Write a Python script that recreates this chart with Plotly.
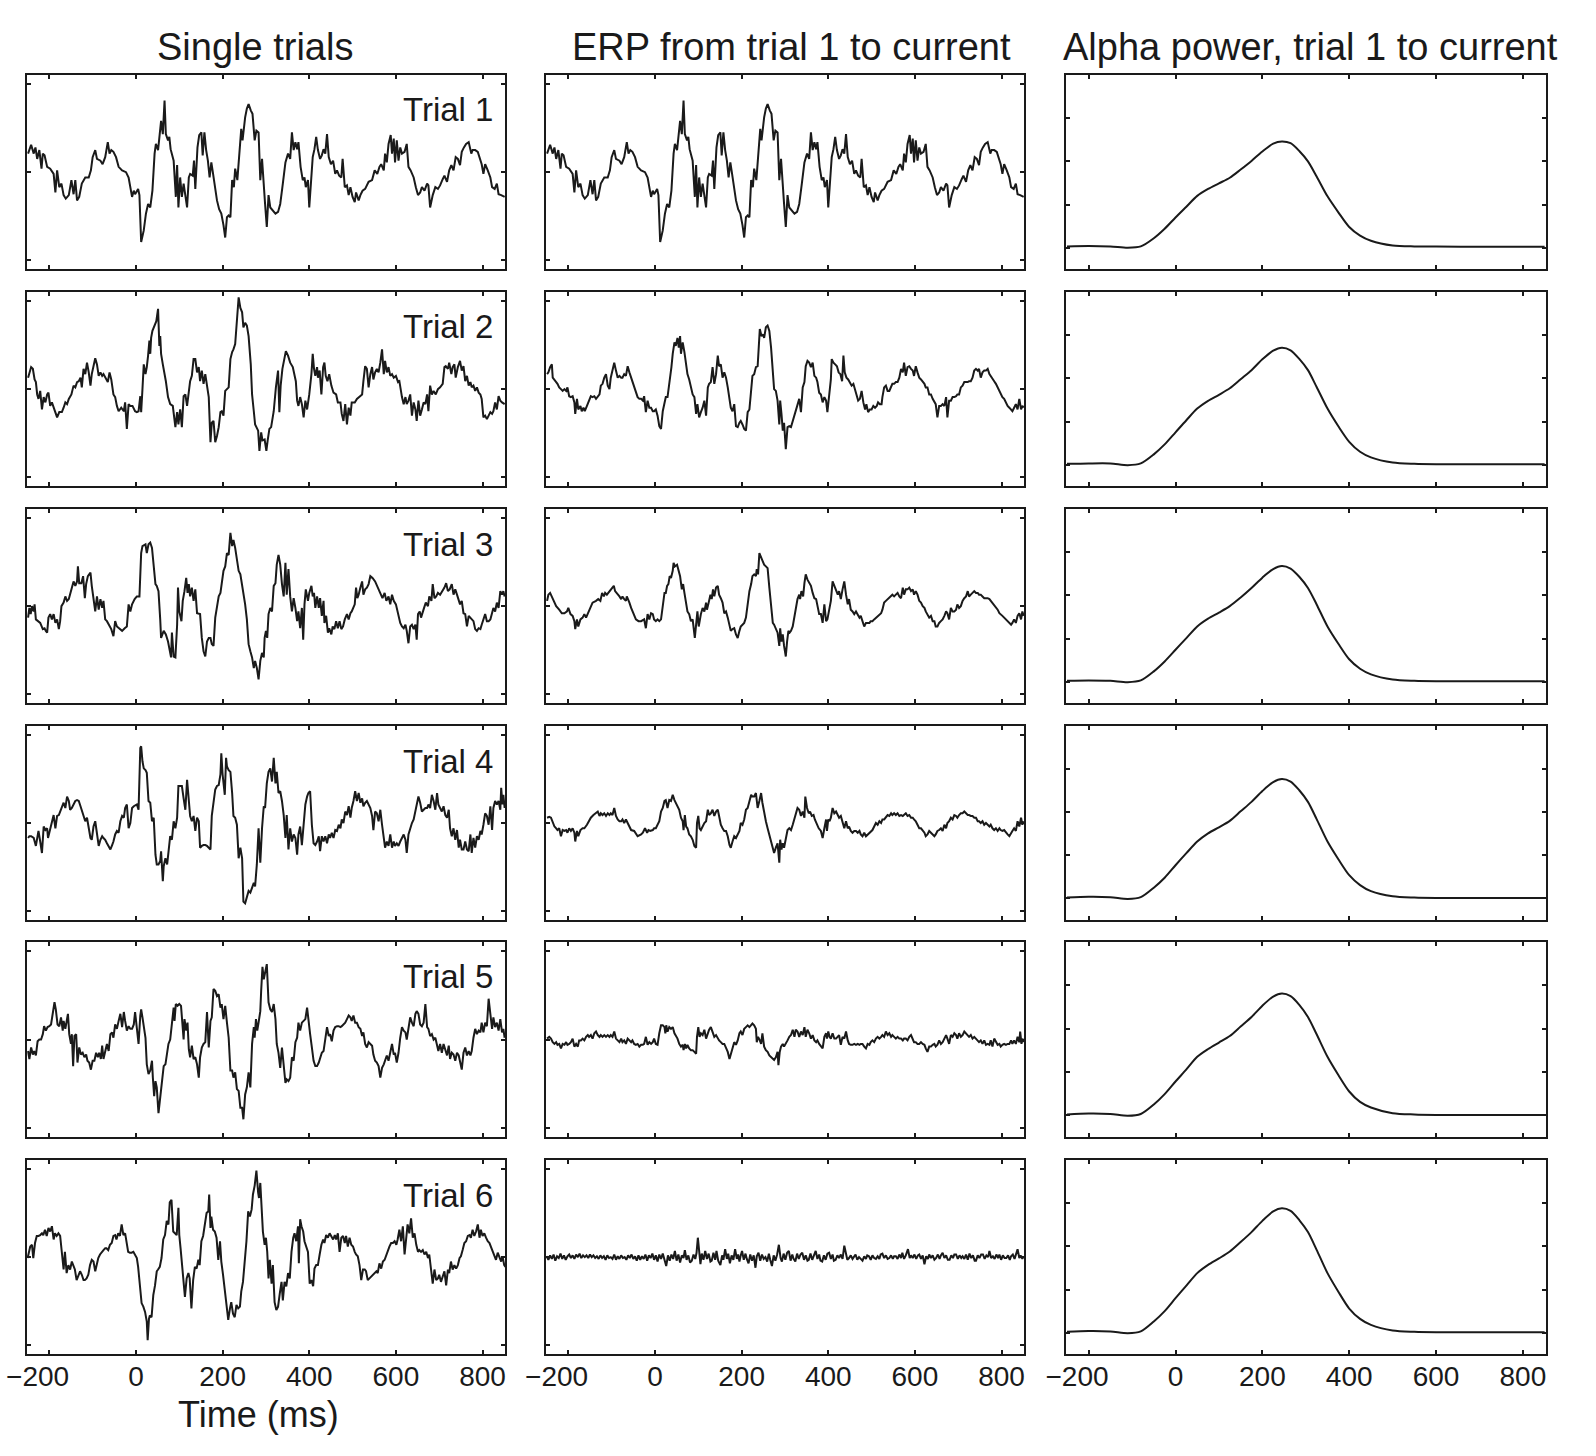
import plotly.graph_objects as go
from plotly.subplots import make_subplots

# ---------------- data (time in ms, amplitude in microvolts) ----------------
x_ticks = [-200, 0, 200, 400, 600, 800]
x_tick_text = ["\u2212200\u00a0\u00a0\u00a0", "0", "200", "400", "600", "800"]
col_titles = ["Single trials", "ERP from trial 1 to current", "Alpha power, trial 1 to current"]
trial_labels = ["Trial 1", "Trial 2", "Trial 3", "Trial 4", "Trial 5", "Trial 6"]

trial1 = [(-249,2.1),(-242,3.1),(-236,2.1),(-232,2.8),(-228,1.5),(-223,2.5),(-218,0.4),(-215,2.1),(-211,1.9),(-205,0.6),
 (-198,0.4),(-190,-0.2),(-186,-2.3),(-182,0.2),(-177,-1.7),(-172,-1.3),(-167,-2.6),(-162,-3.0),(-155,-2.6),(-149,-0.9),
 (-144,-2.5),(-140,-0.9),(-136,-3.2),(-131,-2.8),(-125,-1.3),(-117,-0.6),(-109,-0.6),(-104,0.2),(-100,1.7),(-94,2.5),
 (-90,1.5),(-82,1.3),(-77,0.9),(-71,1.7),(-65,3.4),(-61,2.1),(-57,2.5),(-52,2.3),(-46,1.7),(-40,0.6),
 (-32,0.2),(-23,0.0),(-17,-0.6),(-9,-2.8),(-5,-2.1),(-2,-2.5),(5,-1.9),(8,-2.6),(12,-7.9),(18,-6.6),
 (23,-4.7),(28,-3.6),(33,-4.0),(38,-2.1),(43,2.1),(46,3.2),(51,2.5),(55,4.7),(58,5.8),(62,4.3),
 (66,8.1),(69,4.3),(74,3.6),(77,4.0),(80,2.6),(87,1.3),(92,-2.8),(95,0.8),(98,-4.0),(102,-0.6),
 (106,-2.8),(110,-1.3),(114,-2.8),(118,-4.0),(122,-0.6),(125,-0.2),(131,-0.4),(134,1.3),(137,-1.9),(142,2.8),
 (146,4.2),(151,4.5),(154,1.9),(158,4.5),(162,2.5),(166,1.3),(170,-0.6),(174,1.1),(178,-0.2),(183,-2.1),
 (187,-3.2),(192,-4.2),(197,-4.7),(202,-6.0),(206,-7.4),(210,-5.1),(214,-4.9),(218,-5.1),(222,-0.9),(226,-1.7),
 (229,0.4),(234,-0.9),(238,2.1),(243,4.9),(246,3.6),(249,5.1),(252,6.2),(256,7.2),(260,7.7),(265,7.0),
 (269,6.6),(274,3.6),(278,4.7),(283,4.5),(287,-0.9),(291,1.5),(295,-2.1),(298,-3.6),(302,-6.2),(306,-2.6),
 (310,-4.0),(315,-4.3),(322,-4.7),(328,-4.5),(333,-3.6),(338,-1.7),(345,1.1),(351,2.1),(356,1.5),(360,4.5),
 (364,2.5),(368,3.4),(372,2.6),(375,3.4),(380,0.6),(385,-0.9),(389,-0.6),(392,-1.7),(397,-0.9),(400,-4.0),
 (405,-0.9),(408,1.7),(412,2.6),(416,4.0),(420,2.5),(425,1.5),(429,1.9),(433,2.6),(437,2.1),(441,4.3),
 (445,1.7),(450,0.9),(455,1.3),(460,-0.2),(464,0.2),(469,-0.4),(474,-0.6),(477,1.5),(482,-1.7),(487,-1.5),
 (491,-2.6),(495,-1.7),(500,-2.8),(505,-3.4),(508,-2.3),(514,-3.2),(518,-2.6),(523,-2.1),(529,-1.9),(537,-1.1),
 (545,-0.9),(551,0.2),(557,-0.2),(562,0.6),(566,0.9),(572,0.2),(575,2.1),(579,1.1),(583,3.2),(588,4.2),
 (591,2.1),(595,3.8),(598,1.1),(602,3.6),(606,1.3),(610,2.8),(614,2.1),(620,2.3),(625,3.2),(629,0.6),
 (634,0.2),(641,-0.6),(646,-1.7),(651,-2.6),(656,-2.3),(660,-1.7),(666,-2.1),(672,-1.3),(675,-1.5),(679,-4.0),
 (685,-2.6),(691,-1.7),(697,-1.9),(702,-1.5),(708,-0.8),(712,-0.4),(718,-1.1),(723,0.2),(728,0.8),(733,0.2),
 (738,1.7),(743,1.5),(748,0.8),(752,2.3),(757,2.8),(762,3.2),(768,3.4),(774,2.1),(777,2.5),(783,2.5),
 (789,2.3),(795,1.5),(798,0.9),(802,-0.2),(806,0.9),(812,0.2),(818,-0.6),(822,-1.7),(828,-1.9),(833,-1.3),
 (837,-2.5),(843,-2.6),(851,-2.8)]

trial2 = [(-249,1.3),(-246,1.9),(-242,2.5),(-238,2.3),(-234,1.1),(-231,0.8),(-228,-0.6),(-225,-1.1),(-221,-0.2),(-217,-2.3),
 (-213,-0.9),(-209,-1.5),(-205,-0.6),(-202,-0.4),(-198,-1.9),(-194,-1.5),(-190,-2.1),(-186,-2.8),(-182,-3.2),(-177,-2.6),
 (-171,-2.6),(-167,-2.1),(-163,-1.5),(-159,-1.7),(-155,-1.1),(-149,-0.6),(-144,0.4),(-140,0.2),(-136,0.8),(-132,0.9),
 (-128,1.3),(-125,0.2),(-121,2.3),(-117,1.7),(-113,3.0),(-109,1.9),(-105,0.4),(-102,1.7),(-98,2.6),(-94,3.5),
 (-90,2.8),(-86,1.5),(-82,1.9),(-78,1.5),(-75,1.7),(-71,1.3),(-65,0.8),(-61,1.9),(-57,1.1),(-52,-0.6),
 (-48,-0.9),(-44,-1.9),(-40,-2.5),(-34,-2.1),(-28,-2.5),(-25,-1.5),(-21,-4.5),(-17,-1.7),(-13,-1.9),(-8,-1.9),
 (-2,-2.5),(2,-2.6),(6,-2.5),(10,-0.8),(12,-2.6),(15,0.0),(18,2.8),(22,1.7),(25,2.5),(28,3.8),
 (31,5.5),(33,4.0),(35,5.8),(38,6.6),(43,7.2),(47,7.7),(51,9.1),(54,4.9),(56,6.0),(58,4.0),
 (62,2.8),(66,1.9),(69,0.9),(74,-0.9),(79,-1.7),(85,-1.9),(88,-3.0),(91,-4.3),(95,-2.6),(98,-4.0),
 (102,-2.3),(106,-4.3),(110,-0.8),(114,-0.6),(118,-1.9),(122,0.0),(125,0.9),(129,1.5),(133,3.4),(137,3.4),
 (141,1.9),(145,2.5),(148,0.9),(152,2.1),(156,0.6),(160,1.7),(164,0.2),(168,-0.9),(172,-6.0),(175,-3.8),
 (179,-3.6),(183,-6.0),(187,-5.3),(191,-4.3),(195,-2.6),(198,-2.5),(202,-3.0),(206,-0.2),(214,0.2),(218,3.4),
 (222,4.2),(225,4.5),(229,5.1),(233,7.4),(237,10.4),(241,9.2),(245,8.7),(248,7.0),(252,7.5),(256,7.2),
 (260,6.0),(265,2.8),(268,-0.6),(272,-2.5),(275,-4.0),(282,-4.7),(285,-7.0),(289,-4.9),(292,-5.8),(297,-5.7),
 (301,-7.0),(304,-5.8),(308,-4.5),(312,-4.3),(318,-2.5),(323,0.2),(328,2.1),(331,-2.6),(334,0.4),(338,2.3),
 (343,3.6),(346,4.3),(351,3.8),(356,3.0),(362,2.5),(366,1.7),(369,0.9),(372,-1.3),(375,-1.9),(379,-0.9),
 (383,-1.7),(387,-3.2),(391,-1.3),(395,-2.3),(400,-0.6),(405,1.7),(408,4.0),(411,2.3),(414,1.5),(418,2.5),
 (420,1.3),(424,2.1),(428,-0.6),(432,2.5),(435,3.0),(438,1.5),(442,0.9),(446,1.7),(451,0.4),(456,-0.4),
 (462,-0.6),(466,-1.5),(472,-1.5),(475,-2.8),(479,-3.6),(483,-1.7),(487,-4.0),(491,-2.1),(495,-3.0),(498,-1.5),
 (505,-1.5),(510,-1.1),(515,-0.9),(522,-0.6),(525,0.9),(529,2.6),(533,2.3),(537,0.2),(541,1.7),(545,2.5),
 (548,1.1),(552,1.9),(556,2.3),(560,1.9),(564,3.0),(568,4.5),(572,1.7),(575,3.2),(579,1.9),(583,2.5),
 (587,1.5),(591,1.7),(595,1.3),(600,1.5),(605,0.8),(608,0.9),(614,-0.9),(618,-1.7),(622,-0.9),(625,-1.7),
 (629,-1.3),(633,-0.6),(637,-3.0),(641,-1.5),(645,-2.3),(648,-3.6),(652,-1.3),(656,-3.0),(660,-2.3),(664,-1.5),
 (668,-1.7),(672,-0.6),(675,-2.5),(679,0.4),(683,-0.6),(687,-0.2),(692,-0.6),(697,0.0),(702,0.2),(708,0.6),
 (712,2.5),(715,2.6),(720,2.3),(723,3.0),(728,1.7),(731,2.5),(735,2.8),(738,1.3),(743,2.5),(748,3.2),
 (752,2.1),(756,2.6),(760,0.9),(764,1.5),(768,0.4),(772,0.8),(775,0.2),(779,0.4),(783,-0.2),(787,0.2),
 (791,-0.4),(795,-0.6),(798,-1.1),(802,-3.2),(806,-3.0),(810,-3.4),(814,-3.0),(818,-2.6),(822,-2.8),(825,-2.5),
 (829,-1.5),(833,-2.3),(837,-0.8),(841,-1.3),(845,-1.5),(851,-1.7)]

trial3 = [(-249,-1.3),(-246,-0.2),(-243,-0.9),(-240,0.0),(-236,-0.6),(-234,0.2),(-231,-1.5),(-226,-1.7),(-221,-1.9),(-215,-2.6),
 (-211,-2.5),(-208,-2.8),(-205,-3.0),(-202,-1.3),(-198,-0.9),(-194,-1.5),(-190,-0.9),(-186,-1.9),(-182,-1.5),(-178,-2.6),
 (-175,-1.7),(-172,0.0),(-167,0.4),(-163,1.1),(-159,0.6),(-155,0.8),(-152,1.3),(-148,1.9),(-144,2.8),(-140,2.3),
 (-136,2.8),(-134,4.5),(-131,2.6),(-126,2.6),(-122,3.4),(-118,0.9),(-115,2.5),(-111,3.4),(-105,3.8),(-102,2.3),
 (-98,0.6),(-94,-0.6),(-90,1.1),(-86,-0.4),(-82,0.8),(-78,-0.2),(-75,0.6),(-71,-1.5),(-67,-1.7),(-63,-2.1),
 (-57,-2.6),(-52,-3.4),(-48,-1.7),(-44,-2.3),(-38,-2.6),(-32,-2.8),(-26,-2.5),(-21,-2.3),(-17,0.2),(-13,-0.6),
 (-9,0.2),(-3,0.8),(2,1.1),(8,1.1),(12,6.0),(15,6.8),(22,7.0),(25,6.0),(29,7.0),(33,7.2),
 (37,6.6),(41,4.7),(45,2.5),(48,2.3),(52,1.7),(56,-1.5),(58,-3.6),(64,-2.8),(69,-3.2),(74,-4.0),
 (77,-4.9),(81,-5.8),(83,-3.0),(87,-5.7),(91,-5.8),(95,-2.1),(97,2.1),(100,-0.6),(105,-1.7),(108,0.6),
 (112,1.7),(116,3.2),(119,1.5),(122,2.5),(125,1.1),(129,2.1),(133,0.6),(137,1.9),(141,-0.8),(145,-0.9),
 (148,-0.9),(152,-3.6),(156,-5.1),(160,-5.7),(164,-4.0),(168,-3.6),(172,-3.6),(175,-4.3),(179,-4.5),(183,-1.3),
 (187,-0.2),(191,1.1),(195,1.5),(198,2.6),(202,4.0),(206,4.5),(210,6.0),(214,5.8),(218,8.3),(222,6.8),
 (225,7.5),(229,6.6),(233,5.3),(237,4.0),(241,3.6),(245,2.5),(248,1.3),(252,0.2),(256,-1.5),(260,-4.3),
 (264,-5.1),(268,-5.8),(272,-7.0),(275,-6.2),(279,-7.0),(283,-8.3),(287,-6.2),(291,-5.3),(295,-5.8),(297,-3.6),
 (300,-2.8),(303,-3.6),(306,-0.9),(310,-0.2),(314,-0.6),(318,2.3),(322,2.6),(325,4.7),(329,5.8),(333,4.7),
 (337,2.5),(341,1.1),(345,4.9),(348,1.3),(352,4.2),(356,1.1),(360,-0.6),(364,0.9),(368,-0.2),(372,-1.7),
 (375,-0.6),(379,-2.5),(383,-0.2),(386,-3.8),(389,0.2),(392,1.9),(397,0.6),(400,1.5),(405,2.3),(408,1.1),
 (411,1.5),(414,-0.2),(418,1.1),(422,-0.2),(425,0.9),(429,-1.1),(433,0.6),(435,-1.9),(439,-1.1),(443,-3.0),
 (446,-2.5),(451,-3.2),(454,-2.3),(458,-2.6),(462,-1.7),(466,-2.5),(470,-1.7),(474,-2.6),(478,-2.3),(482,-1.5),
 (487,-0.9),(491,-1.5),(495,-0.8),(498,-0.6),(505,0.2),(508,2.1),(511,0.9),(514,1.3),(518,2.1),(522,2.8),
 (525,1.3),(529,1.9),(533,2.1),(537,2.5),(541,3.4),(546,3.2),(552,2.8),(558,2.1),(564,1.3),(569,0.9),
 (574,1.5),(578,0.6),(583,1.1),(587,0.2),(591,1.3),(595,0.6),(600,0.2),(605,-0.9),(610,-1.9),(614,-2.3),
 (618,-2.5),(622,-2.1),(625,-2.8),(629,-4.2),(633,-2.3),(637,-2.1),(641,-2.6),(645,-2.1),(648,-3.8),(651,-0.9),
 (655,-0.6),(658,-1.3),(662,-0.8),(665,-0.2),(669,0.4),(674,0.0),(677,1.1),(682,0.6),(685,2.5),(689,0.9),
 (693,1.1),(697,1.5),(702,1.3),(708,1.7),(712,2.1),(716,2.6),(720,1.7),(724,1.9),(729,2.5),(733,1.3),
 (737,1.9),(741,1.3),(745,0.8),(748,0.2),(752,0.6),(756,-0.8),(760,-0.9),(764,-2.3),(768,-1.1),(772,-1.3),
 (775,-1.5),(779,-1.7),(783,-2.6),(787,-2.8),(791,-2.5),(795,-2.6),(798,-2.1),(802,-1.5),(806,-0.9),(810,-1.7),
 (814,-1.7),(818,-1.5),(822,-0.9),(825,-0.2),(829,-0.6),(833,0.4),(837,-0.2),(841,1.7),(845,1.3),(848,1.7),
 (851,1.1)]

trial4 = [(-249,-1.7),(-246,-1.5),(-242,-1.5),(-236,-1.7),(-231,-2.6),(-228,-1.9),(-225,-0.9),(-221,-2.1),(-217,-3.4),(-213,-0.4),
 (-209,-0.8),(-205,-0.6),(-203,-1.7),(-200,-1.1),(-195,-0.2),(-190,0.9),(-186,-0.6),(-182,0.8),(-178,0.9),(-175,1.3),
 (-171,1.9),(-167,2.3),(-163,1.7),(-159,3.0),(-155,2.5),(-152,1.5),(-148,1.7),(-144,2.1),(-140,2.5),(-136,2.6),
 (-132,2.5),(-128,1.9),(-125,1.5),(-121,0.9),(-117,0.2),(-113,0.6),(-109,-0.6),(-105,-1.7),(-102,-1.9),(-98,-0.4),
 (-94,0.2),(-90,-1.3),(-86,-2.6),(-82,-1.9),(-78,-1.5),(-75,-1.7),(-71,-1.9),(-67,-2.3),(-63,-2.6),(-59,-3.0),
 (-55,-2.5),(-52,-2.1),(-48,-1.3),(-44,-0.9),(-40,-1.1),(-36,0.2),(-32,0.8),(-28,0.6),(-25,1.7),(-21,2.1),
 (-17,-0.6),(-13,0.0),(-9,1.7),(-5,1.9),(2,2.1),(6,1.5),(10,8.5),(12,8.7),(15,7.0),(18,6.2),
 (22,6.0),(25,5.7),(29,2.5),(33,2.3),(37,0.2),(41,0.6),(45,-3.6),(48,-4.7),(52,-4.7),(56,-4.3),
 (58,-3.2),(62,-6.6),(64,-4.9),(68,-4.0),(72,-4.7),(75,-3.0),(79,-1.5),(83,-1.9),(87,0.2),(91,-0.6),
 (95,0.6),(98,4.2),(102,4.2),(106,4.2),(110,2.8),(114,1.5),(118,4.9),(122,2.1),(125,0.8),(129,0.2),
 (133,0.8),(137,-0.9),(141,0.6),(145,0.2),(148,-2.8),(152,-2.6),(156,-2.5),(160,-2.5),(164,-2.6),(168,-2.8),
 (172,-3.0),(175,0.8),(179,2.3),(183,3.8),(187,4.2),(191,4.3),(195,5.5),(197,7.9),(200,5.5),(202,4.7),
 (205,3.2),(208,7.4),(210,6.4),(214,6.0),(218,5.8),(222,3.4),(225,0.8),(229,0.6),(233,-0.2),(237,-4.0),
 (241,-2.8),(245,-4.0),(248,-8.9),(252,-9.1),(256,-8.5),(260,-7.7),(264,-7.9),(268,-7.4),(272,-6.8),(275,-7.2),
 (279,-4.7),(283,-0.6),(287,-4.5),(291,-0.6),(295,1.9),(298,1.7),(302,4.5),(306,5.8),(310,6.2),(314,4.7),
 (318,7.4),(322,4.5),(325,5.8),(329,3.4),(333,3.6),(337,2.5),(341,0.9),(345,-1.7),(348,0.9),(352,-3.0),
 (356,-0.6),(360,-2.1),(364,-1.3),(368,-1.7),(372,-3.6),(375,-1.3),(379,-0.4),(383,-2.5),(387,0.2),(391,2.1),
 (395,3.0),(398,3.4),(402,3.6),(406,-0.2),(410,-2.3),(414,-2.5),(418,-2.1),(422,-1.5),(425,-3.2),(429,-1.5),
 (433,-2.1),(437,-1.5),(441,-2.3),(445,-1.3),(448,-1.7),(452,-1.1),(456,-1.7),(460,-0.8),(464,-0.9),(468,-0.2),
 (472,-0.6),(475,0.4),(479,0.0),(483,1.3),(487,0.9),(491,1.9),(495,0.6),(498,1.7),(502,2.5),(506,3.6),
 (510,2.5),(514,3.4),(518,2.3),(522,2.8),(525,1.9),(529,2.3),(533,2.5),(537,2.1),(541,1.7),(545,0.8),
 (548,-0.8),(552,1.3),(556,1.1),(560,0.2),(564,1.5),(568,-0.2),(572,-1.7),(575,-2.8),(579,-2.1),(583,-2.6),
 (587,-1.3),(591,-2.8),(595,-2.1),(598,-2.6),(602,-2.3),(606,-2.6),(610,-2.1),(614,-1.7),(618,-1.3),(622,-1.9),
 (625,-3.4),(629,-1.3),(633,-0.6),(637,0.0),(641,0.4),(645,1.3),(648,1.9),(652,3.0),(656,2.3),(660,1.3),
 (664,1.5),(668,1.7),(672,1.7),(675,2.1),(679,1.7),(683,3.2),(687,2.5),(691,1.5),(695,3.4),(698,2.1),
 (702,1.7),(706,1.3),(710,1.9),(714,0.9),(718,0.6),(722,1.5),(725,-0.6),(729,-1.5),(733,-0.6),(737,-1.9),
 (741,-0.8),(745,-2.8),(748,-1.9),(752,-3.0),(756,-3.0),(760,-2.1),(764,-3.0),(768,-3.2),(772,-1.3),(775,-3.4),
 (779,-1.7),(783,-2.8),(787,-1.5),(791,-1.9),(795,-0.9),(798,-1.3),(802,-0.2),(806,1.1),(810,0.8),(814,-0.2),
 (818,1.9),(822,-0.8),(825,1.7),(829,2.5),(833,2.1),(837,2.5),(841,1.5),(843,4.0),(846,2.1),(848,3.2),
 (851,1.7)]

trial5 = [(-249,-1.3),(-246,-2.2),(-242,-0.9),(-238,-1.7),(-235,-1.3),(-231,-1.8),(-227,-0.2),(-223,0.0),(-219,0.0),(-215,0.6),
 (-212,1.5),(-208,1.0),(-204,1.4),(-200,1.5),(-196,1.7),(-192,3.1),(-188,4.2),(-185,3.4),(-181,1.7),(-177,1.5),
 (-173,2.5),(-169,1.0),(-167,2.1),(-163,1.2),(-159,2.5),(-157,2.9),(-154,0.6),(-150,-0.5),(-148,0.6),(-145,-3.0),
 (-142,0.4),(-138,0.6),(-135,-2.6),(-131,-0.9),(-127,-1.7),(-123,-1.5),(-119,-2.0),(-115,-1.7),(-112,-2.4),(-108,-2.6),
 (-104,-3.4),(-100,-2.4),(-96,-2.4),(-92,-1.5),(-88,-2.0),(-85,-1.5),(-81,-2.2),(-78,-0.7),(-75,-2.2),(-71,-1.5),
 (-67,-0.5),(-63,-1.3),(-59,0.6),(-55,0.8),(-52,0.2),(-48,1.7),(-44,1.2),(-40,2.1),(-36,2.9),(-32,1.4),
 (-28,3.1),(-25,2.1),(-21,1.0),(-17,1.5),(-13,1.2),(-9,1.2),(-5,1.7),(-2,3.1),(2,1.5),(6,-0.5),
 (10,2.7),(12,3.4),(15,2.5),(18,1.4),(22,0.2),(25,-2.8),(29,-3.9),(33,-3.5),(37,-2.4),(39,-4.3),
 (42,-6.4),(45,-4.7),(48,-5.4),(52,-8.3),(56,-6.6),(60,-5.1),(64,-3.0),(68,-2.8),(72,-1.7),(75,-0.5),
 (79,0.0),(83,2.1),(87,3.6),(89,2.1),(92,4.0),(96,3.8),(100,4.0),(104,3.8),(106,2.3),(110,0.0),
 (112,2.3),(116,1.0),(119,1.9),(122,-1.1),(125,-2.0),(129,-0.7),(133,-2.2),(137,-2.0),(141,-2.8),(145,-4.3),
 (148,-2.0),(152,-0.9),(156,-0.5),(160,-0.3),(164,3.1),(168,-0.9),(172,2.1),(175,2.5),(179,5.7),(183,5.5),
 (187,4.9),(191,5.1),(195,3.6),(198,4.0),(202,2.3),(206,3.8),(210,1.9),(214,0.2),(218,-3.5),(222,-3.5),
 (225,-4.3),(229,-3.7),(233,-5.6),(237,-5.8),(241,-7.7),(245,-7.7),(248,-9.0),(252,-6.2),(256,-5.4),(260,-3.7),
 (264,-5.4),(268,-0.5),(272,1.4),(274,0.2),(277,2.3),(280,1.0),(283,1.9),(287,3.2),(289,5.5),(292,8.2),
 (295,6.8),(298,7.6),(302,8.5),(306,4.2),(310,3.4),(314,3.1),(318,4.0),(322,2.3),(325,-0.5),(329,-1.5),
 (333,-3.2),(337,-0.9),(341,-3.2),(345,-4.9),(348,-4.5),(352,-4.7),(356,-4.3),(360,-2.0),(364,-2.4),(368,-0.3),
 (372,0.2),(375,1.9),(379,1.0),(383,1.9),(387,2.1),(391,2.3),(395,3.6),(398,2.1),(402,0.6),(406,-0.9),
 (410,-2.4),(414,-3.0),(418,-3.0),(422,-2.6),(425,-2.2),(429,-1.5),(433,-1.3),(437,0.2),(441,1.4),(445,0.4),
 (448,0.6),(452,-0.2),(456,1.0),(460,1.4),(464,1.5),(468,1.5),(472,1.4),(475,1.5),(479,1.7),(483,1.9),
 (487,2.3),(491,2.7),(495,2.5),(498,2.1),(502,2.7),(506,1.9),(510,1.9),(514,1.4),(518,1.2),(522,0.4),
 (525,0.8),(529,-0.5),(533,-0.9),(537,-0.3),(541,-0.5),(545,-0.7),(548,-1.7),(552,-2.4),(556,-2.6),(560,-3.0),
 (564,-4.3),(568,-3.2),(572,-2.8),(575,-2.4),(579,-1.8),(583,-2.4),(587,-1.5),(591,-0.5),(595,-1.7),(598,-1.5),
 (602,-2.6),(606,-1.5),(610,0.2),(614,1.4),(618,1.0),(622,0.8),(625,0.0),(629,1.4),(633,2.5),(637,1.9),
 (641,1.5),(645,2.9),(648,3.2),(652,2.9),(656,1.7),(660,1.5),(664,1.9),(668,4.0),(672,1.4),(675,1.2),
 (679,0.4),(683,0.6),(687,0.0),(691,0.2),(695,-0.5),(698,-1.3),(702,-0.5),(706,-1.5),(710,-0.5),(714,-1.1),
 (718,-1.8),(722,-0.7),(725,-2.2),(729,-1.5),(733,-1.7),(737,-2.4),(741,-1.5),(745,-1.8),(748,-2.4),(752,-3.4),
 (756,-1.5),(760,-0.9),(764,-1.8),(768,-1.3),(772,-1.8),(775,-1.3),(779,0.2),(783,1.2),(787,0.6),(791,1.0),
 (795,0.8),(798,1.9),(802,0.8),(806,1.9),(810,1.5),(814,4.6),(818,2.9),(822,1.2),(825,2.5),(829,1.4),
 (833,1.9),(837,1.0),(841,2.3),(845,0.8),(848,1.2),(851,0.2)]

trial6 = [(-250,-0.1),(-248,0.5),(-244,1.2),(-240,1.4),(-237,-0.1),(-233,1.6),(-229,2.4),(-225,2.4),(-221,2.5),(-217,2.7),
 (-214,2.5),(-210,3.1),(-206,2.4),(-202,3.3),(-198,2.9),(-194,3.5),(-190,2.0),(-187,2.7),(-183,2.4),(-179,2.7),
 (-175,2.4),(-171,0.5),(-167,-1.4),(-164,0.6),(-160,-1.8),(-156,-0.9),(-152,-1.4),(-148,-0.5),(-144,-1.1),(-141,-1.4),
 (-137,-2.6),(-133,-2.0),(-129,-1.6),(-125,-2.0),(-121,-2.6),(-118,-2.6),(-114,-2.4),(-110,-2.0),(-106,-0.9),(-102,-0.3),
 (-98,-0.5),(-94,-1.6),(-91,-0.9),(-87,-0.1),(-83,0.3),(-79,0.6),(-75,0.8),(-71,1.0),(-68,1.0),(-64,0.8),
 (-60,1.4),(-56,1.6),(-52,2.4),(-48,2.5),(-45,2.0),(-41,2.7),(-37,2.4),(-33,3.7),(-29,2.5),(-25,2.7),
 (-22,1.6),(-18,0.6),(-14,0.5),(-10,0.5),(-6,0.6),(-2,0.3),(2,-0.1),(5,-1.1),(9,-3.2),(13,-5.2),
 (17,-5.6),(21,-6.2),(25,-7.3),(27,-9.4),(30,-7.0),(32,-6.6),(36,-6.8),(40,-4.3),(44,-3.2),(48,-1.6),
 (51,-1.4),(55,-1.1),(59,-0.1),(63,2.0),(67,2.5),(71,4.1),(75,3.7),(78,6.2),(82,6.5),(84,4.6),
 (86,2.9),(90,2.7),(94,2.5),(98,5.6),(100,2.5),(103,1.0),(106,-0.5),(109,-2.0),(113,-4.5),(117,-2.4),
 (121,-1.8),(124,-2.4),(128,-5.8),(132,-2.6),(136,-1.1),(140,-1.3),(144,-0.3),(147,-0.9),(151,1.8),(155,2.4),
 (159,3.5),(163,5.0),(167,5.2),(169,7.1),(172,3.3),(174,4.6),(178,3.1),(182,2.9),(186,2.2),(190,-0.3),
 (194,1.8),(197,-0.5),(201,-2.0),(205,-3.7),(209,-5.1),(213,-7.1),(217,-5.8),(220,-5.1),(224,-6.4),(228,-6.8),
 (232,-5.4),(236,-5.8),(240,-5.6),(243,-3.9),(247,-2.8),(251,-0.9),(255,1.8),(259,5.2),(263,4.6),(267,5.4),
 (270,7.1),(274,8.1),(278,9.8),(282,7.3),(284,6.7),(287,8.4),(290,5.8),(293,2.9),(297,1.4),(300,2.2),
 (303,0.6),(306,-2.4),(309,-0.3),(313,-3.0),(316,-0.9),(320,-5.1),(324,-6.0),(328,-5.6),(332,-4.1),(336,-2.8),
 (339,-4.9),(343,-2.8),(347,-3.3),(351,-1.8),(355,-2.4),(359,0.6),(363,2.2),(366,2.7),(370,1.8),(374,3.5),
 (376,-0.7),(379,4.3),(382,3.5),(386,2.9),(389,1.8),(393,1.2),(397,0.6),(401,-3.0),(405,-2.6),(409,-3.3),
 (412,-1.3),(416,-0.9),(420,-0.9),(424,0.3),(428,1.4),(432,2.0),(435,1.6),(439,2.5),(443,2.2),(447,2.7),
 (451,2.4),(455,2.0),(459,2.5),(462,2.0),(466,2.7),(470,0.6),(474,2.2),(478,2.4),(482,1.6),(485,2.4),
 (489,1.2),(493,2.2),(497,1.4),(501,1.2),(505,0.6),(508,0.3),(512,0.1),(516,-0.9),(520,-2.6),(524,-1.4),
 (528,-1.4),(531,-1.6),(535,-2.6),(539,-2.4),(543,-2.2),(547,-2.0),(551,-1.8),(555,-1.6),(558,-1.8),(562,-0.7),
 (566,-1.3),(570,-0.5),(574,-0.3),(578,0.3),(581,0.6),(585,1.2),(589,1.6),(593,1.6),(597,1.8),(601,1.4),
 (604,2.0),(608,3.1),(612,1.8),(616,3.5),(620,0.3),(624,2.5),(627,3.7),(631,2.7),(635,4.4),(639,2.2),
 (643,2.7),(647,1.4),(651,0.6),(654,0.8),(658,0.6),(662,0.8),(666,0.3),(670,0.6),(674,-0.1),(677,0.3),
 (681,-1.3),(685,-3.0),(689,-1.4),(693,-2.6),(697,-2.4),(700,-2.0),(704,-2.8),(708,-2.2),(712,-1.6),(716,-3.2),
 (720,-1.4),(723,-1.8),(727,-0.5),(731,-1.4),(735,-0.9),(739,-1.3),(743,-0.9),(747,-0.1),(750,0.1),(754,0.8),
 (758,1.6),(762,1.8),(766,2.4),(770,2.5),(773,2.2),(777,3.1),(781,2.4),(785,2.9),(789,3.7),(793,2.2),
 (796,3.1),(800,2.4),(804,2.7),(808,2.2),(812,1.8),(816,1.6),(819,1.2),(823,0.8),(827,0.3),(831,-0.3),
 (835,0.5),(839,-0.1),(843,-0.5),(846,0.1),(850,-0.9),(853,-1.1)]

erp1 = trial1  # the ERP after one trial is that trial itself

erp2 = [(-249,1.7),(-246,1.9),(-242,2.5),(-238,2.8),(-236,1.3),(-232,1.1),(-228,0.8),(-225,0.6),(-221,0.2),(-217,0.0),
 (-213,-0.2),(-209,0.0),(-205,-0.2),(-202,0.2),(-198,-0.8),(-194,-0.9),(-190,-0.8),(-186,-1.5),(-184,-2.8),(-180,-1.1),
 (-177,-2.3),(-172,-1.9),(-169,-2.5),(-165,-2.1),(-162,-2.5),(-157,-1.9),(-152,-1.3),(-148,-0.8),(-144,-0.9),(-140,-0.8),
 (-136,-1.1),(-132,-0.8),(-128,-0.6),(-125,0.4),(-121,0.6),(-117,1.3),(-113,1.7),(-109,0.4),(-105,0.0),(-102,1.3),
 (-98,2.1),(-94,3.0),(-90,2.1),(-86,1.3),(-82,1.5),(-78,1.3),(-75,1.3),(-71,1.7),(-67,1.5),(-63,2.6),
 (-59,1.9),(-55,1.3),(-52,1.1),(-48,0.4),(-44,-0.2),(-40,-0.9),(-36,-1.1),(-32,-1.1),(-28,-1.3),(-25,-0.8),
 (-21,-2.6),(-17,-1.3),(-13,-2.1),(-9,-2.1),(-5,-2.5),(-2,-2.5),(2,-2.3),(6,-3.0),(10,-4.2),(14,-4.5),
 (18,-2.5),(22,-1.5),(25,-0.9),(29,-0.9),(33,0.6),(35,0.8),(38,2.5),(41,4.0),(45,5.3),(48,4.9),
 (52,5.8),(55,4.7),(58,6.0),(60,4.0),(64,5.3),(68,4.2),(72,2.3),(75,1.7),(79,1.1),(83,0.2),
 (87,-0.6),(91,-0.9),(95,-2.8),(98,-1.7),(102,-3.2),(106,-2.6),(110,-2.1),(114,-1.3),(118,-3.0),(122,0.2),
 (125,0.6),(129,0.8),(133,2.5),(137,0.6),(141,1.7),(145,3.8),(148,2.6),(152,2.8),(156,1.3),(160,1.9),
 (164,1.3),(168,0.2),(172,-1.1),(175,-2.1),(179,-2.5),(183,-1.7),(187,-4.2),(191,-4.3),(195,-3.8),(198,-3.6),
 (202,-4.0),(206,-4.5),(210,-4.7),(214,-2.6),(218,-2.3),(222,-0.4),(225,1.5),(229,1.7),(233,2.5),(237,2.6),
 (239,4.2),(242,6.8),(246,6.0),(250,6.2),(252,5.8),(256,7.0),(260,7.2),(264,6.6),(268,4.7),(272,2.5),
 (275,0.0),(279,-0.2),(283,-1.3),(287,-4.0),(289,-1.3),(292,-2.8),(295,-4.7),(298,-3.8),(302,-6.8),(306,-4.3),
 (310,-4.2),(314,-4.3),(318,-3.6),(322,-3.0),(325,-2.3),(329,-1.5),(333,-1.1),(337,-2.6),(341,0.2),(345,0.8),
 (348,2.6),(352,3.2),(356,3.0),(360,2.5),(364,3.0),(368,1.5),(372,1.3),(375,0.8),(379,-0.4),(383,-0.6),
 (387,-1.5),(391,-0.9),(395,-1.3),(398,-2.6),(402,-0.9),(406,1.1),(408,3.4),(412,3.0),(416,2.8),(420,2.6),
 (424,1.9),(428,1.7),(432,0.9),(435,3.8),(438,1.9),(442,1.3),(446,1.1),(450,0.8),(454,0.4),(458,0.6),
 (462,0.0),(465,-0.6),(469,-1.3),(473,-1.1),(477,-0.2),(481,-1.5),(485,-2.3),(488,-1.7),(492,-2.6),(496,-2.3),
 (500,-2.3),(504,-1.9),(508,-2.1),(512,-1.9),(515,-1.5),(519,-1.7),(523,-1.7),(525,-0.9),(529,0.2),(533,0.4),
 (537,-0.2),(541,-0.2),(545,0.4),(548,0.6),(552,0.6),(556,0.8),(560,0.8),(564,1.3),(568,2.3),(572,1.9),
 (575,3.0),(579,1.5),(583,2.5),(587,2.6),(591,2.3),(595,2.1),(598,1.5),(602,2.6),(606,1.9),(610,1.3),
 (614,1.1),(618,0.9),(622,0.6),(625,0.2),(629,0.2),(633,-0.6),(637,-0.6),(641,-1.1),(645,-1.5),(648,-1.7),
 (652,-3.2),(656,-1.9),(660,-1.9),(664,-1.7),(668,-1.9),(672,-0.9),(675,-3.2),(679,-1.3),(683,-1.3),(687,-0.9),
 (691,-0.9),(695,-0.8),(698,-0.6),(702,-0.6),(706,0.2),(710,0.4),(714,0.8),(718,0.8),(722,0.8),(725,0.9),
 (729,0.9),(733,1.3),(737,2.1),(741,2.3),(745,2.1),(748,2.3),(752,1.3),(756,1.9),(760,2.1),(764,2.1),
 (768,2.3),(772,1.7),(775,1.5),(779,1.3),(783,0.9),(787,0.6),(791,0.2),(795,-0.2),(798,-0.6),(802,-0.9),
 (806,-1.1),(810,-1.5),(814,-1.9),(818,-2.1),(822,-2.3),(825,-2.5),(829,-2.1),(833,-1.7),(837,-2.3),(841,-1.1),
 (845,-2.3),(848,-1.9),(851,-2.1)]

erp3 = [(-249,0.6),(-246,1.3),(-242,1.5),(-238,1.1),(-234,0.6),(-228,0.0),(-221,-0.4),(-215,-0.8),(-209,-0.8),(-203,-0.6),
 (-200,-0.2),(-195,-0.9),(-190,-1.1),(-186,-1.7),(-184,-2.6),(-180,-1.5),(-177,-2.3),(-172,-1.5),(-167,-1.3),(-163,-0.9),
 (-159,-1.3),(-155,-0.8),(-149,0.0),(-144,0.4),(-136,0.6),(-131,0.8),(-126,0.6),(-122,1.5),(-118,1.1),(-115,1.5),
 (-111,1.3),(-105,1.7),(-100,2.1),(-95,2.3),(-92,1.7),(-88,1.5),(-82,1.1),(-78,0.8),(-75,1.1),(-71,0.8),
 (-67,0.6),(-65,1.1),(-62,0.8),(-59,0.4),(-55,-0.2),(-49,-0.9),(-44,-1.5),(-38,-1.7),(-32,-1.7),(-25,-1.5),
 (-21,-2.5),(-17,-0.9),(-13,-1.5),(-9,-0.8),(-5,-0.9),(-2,-1.5),(2,-1.7),(6,-1.5),(10,-1.7),(14,-1.5),
 (18,0.2),(22,1.5),(25,1.5),(28,2.3),(31,2.5),(34,3.4),(37,3.2),(41,4.0),(43,4.9),(46,4.5),
 (51,4.7),(54,4.0),(58,3.4),(62,1.9),(65,2.5),(68,1.5),(72,0.2),(75,-0.6),(79,-0.9),(83,-1.7),
 (87,-1.5),(89,-2.3),(92,-3.6),(95,-2.1),(98,-0.6),(101,-2.3),(104,-1.1),(106,-0.9),(110,-0.2),(114,-0.6),
 (118,0.4),(120,-0.4),(124,0.4),(128,1.3),(131,0.8),(134,1.9),(137,1.1),(141,2.1),(145,2.3),(148,1.3),
 (152,0.9),(156,0.4),(160,-0.8),(164,-0.6),(168,-1.3),(172,-2.3),(175,-2.8),(179,-2.6),(183,-2.5),(187,-3.2),
 (191,-3.6),(195,-2.8),(198,-2.3),(202,-2.1),(206,-1.9),(210,-1.3),(214,0.4),(218,1.7),(222,2.5),(225,3.4),
 (229,3.6),(233,3.4),(235,4.2),(238,3.6),(241,6.0),(245,5.5),(248,5.3),(252,4.7),(256,4.5),(260,4.3),
 (264,2.1),(268,0.2),(272,-1.9),(275,-2.1),(279,-2.5),(283,-3.0),(287,-4.5),(289,-2.5),(292,-4.0),(295,-3.2),
 (298,-4.5),(302,-5.7),(305,-4.0),(308,-2.8),(311,-3.0),(314,-2.8),(318,-2.3),(322,-1.1),(325,-0.2),(329,0.8),
 (333,1.3),(335,0.8),(338,1.7),(342,1.1),(345,2.6),(348,3.6),(352,3.0),(356,2.6),(360,2.3),(364,1.5),
 (368,0.9),(372,0.8),(375,0.2),(379,-0.9),(383,-0.9),(387,-1.9),(391,0.2),(395,-1.7),(398,-1.5),(402,-0.2),
 (406,0.6),(410,2.8),(414,2.3),(418,1.9),(422,1.3),(425,1.7),(429,0.8),(433,1.9),(437,2.8),(441,1.3),
 (445,0.2),(448,0.8),(452,-0.4),(456,-0.6),(460,-0.9),(464,-0.6),(468,-0.9),(472,-1.3),(475,-1.1),(479,-1.7),
 (483,-2.3),(487,-1.9),(491,-1.9),(495,-1.9),(498,-1.7),(502,-1.7),(506,-1.5),(510,-1.3),(514,-1.1),(518,-0.9),
 (522,-0.8),(525,-0.4),(529,0.4),(533,0.6),(537,0.8),(541,0.9),(545,1.1),(548,1.3),(552,1.1),(556,1.3),
 (560,1.5),(564,1.1),(568,0.9),(572,2.1),(575,1.3),(579,1.9),(583,1.9),(587,2.1),(591,1.7),(595,1.9),
 (598,1.3),(602,1.7),(606,1.3),(610,0.6),(614,0.4),(618,0.0),(622,-0.2),(625,-0.6),(629,-0.9),(633,-1.3),
 (637,-1.1),(641,-1.7),(645,-1.7),(648,-2.3),(652,-2.3),(656,-1.9),(660,-1.7),(664,-1.5),(668,-1.1),(672,-0.6),
 (675,-0.8),(679,-1.5),(683,-0.2),(687,-0.6),(691,-0.6),(695,-0.4),(698,0.2),(702,-0.2),(706,0.0),(710,0.6),
 (714,0.9),(718,1.1),(722,1.7),(725,1.1),(729,1.3),(733,1.5),(737,1.7),(741,1.5),(745,1.5),(748,1.3),
 (752,1.3),(756,1.1),(760,0.9),(764,0.9),(768,0.9),(772,0.8),(775,0.6),(779,0.4),(783,0.2),(787,-0.2),
 (791,-0.4),(795,-0.8),(798,-0.9),(802,-1.1),(806,-1.3),(810,-1.5),(814,-1.7),(818,-1.9),(822,-2.1),(825,-1.9),
 (829,-1.5),(833,-1.9),(837,-1.1),(841,-0.8),(845,-1.5),(848,-0.6),(851,-1.1)]

erp4 = [(-249,0.6),(-244,0.7),(-240,0.6),(-236,0.0),(-232,-0.4),(-228,-0.6),(-225,-0.8),(-221,-0.6),(-217,-1.5),(-213,-0.8),
 (-209,-0.9),(-205,-0.8),(-202,-1.1),(-198,-0.6),(-194,-0.9),(-190,-0.6),(-186,-1.1),(-184,-2.1),(-180,-0.9),(-177,-1.5),
 (-172,-0.8),(-167,-0.6),(-163,-0.6),(-157,-0.2),(-152,0.2),(-148,0.6),(-142,0.9),(-136,1.1),(-132,1.3),(-128,0.8),
 (-125,1.1),(-121,0.9),(-117,1.1),(-113,0.8),(-109,1.1),(-105,0.9),(-102,1.1),(-98,0.9),(-94,1.7),(-90,0.8),
 (-86,0.4),(-82,0.2),(-78,0.2),(-75,0.4),(-71,0.0),(-67,0.4),(-63,0.0),(-59,-0.4),(-55,-0.8),(-48,-0.9),
 (-40,-1.5),(-32,-1.3),(-28,-1.1),(-23,-0.6),(-18,-1.1),(-15,-0.8),(-11,-0.9),(-5,-0.8),(-2,-0.6),(2,-0.6),
 (6,-0.2),(10,0.2),(14,1.3),(18,1.7),(22,2.5),(25,2.6),(29,1.7),(33,2.6),(37,2.5),(41,3.2),
 (45,2.6),(48,2.3),(52,1.9),(56,1.5),(60,0.6),(64,0.2),(66,-0.8),(69,0.9),(72,-0.4),(75,-0.6),
 (79,-1.3),(83,-1.5),(87,-1.9),(91,-2.6),(95,-2.8),(97,0.0),(100,0.8),(103,-0.6),(106,-0.8),(110,-0.4),
 (114,0.0),(118,0.2),(122,1.5),(125,0.9),(129,1.1),(133,1.5),(137,0.8),(141,1.3),(145,1.5),(148,0.8),
 (152,-0.2),(156,-0.6),(160,-0.9),(164,-0.9),(168,-1.5),(172,-2.5),(175,-2.8),(179,-2.1),(183,-1.5),(187,-1.7),
 (191,-1.3),(195,-0.9),(198,0.0),(202,-0.2),(206,0.4),(210,1.5),(214,1.7),(218,2.5),(222,3.2),(225,3.0),
 (229,3.0),(233,3.4),(237,1.7),(241,2.5),(245,3.4),(248,2.3),(252,1.1),(256,0.2),(260,-0.6),(264,-1.3),
 (268,-2.1),(272,-2.6),(275,-3.4),(279,-2.8),(283,-2.3),(287,-4.5),(289,-1.9),(292,-3.0),(295,-2.3),(298,-2.8),
 (302,-1.9),(306,-0.8),(310,-0.6),(314,-0.8),(318,-0.2),(322,0.4),(325,1.1),(329,1.7),(333,1.5),(337,0.8),
 (341,1.3),(345,0.6),(347,3.0),(351,1.7),(355,1.1),(358,1.3),(362,0.8),(366,0.9),(369,0.4),(374,-0.2),
 (378,-0.6),(383,-0.9),(387,-1.7),(391,-0.6),(395,0.4),(397,-0.9),(400,0.4),(403,0.2),(406,0.6),(410,1.7),
 (414,1.1),(418,1.3),(422,0.9),(425,0.6),(429,0.8),(433,0.2),(437,-0.6),(441,0.2),(445,-0.6),(448,-0.4),
 (452,-0.9),(456,-1.1),(460,-0.9),(464,-0.9),(468,-1.1),(472,-0.9),(475,-1.3),(479,-1.5),(483,-1.1),(487,-1.5),
 (491,-1.3),(495,-1.1),(498,-0.9),(502,-0.8),(506,-0.4),(510,0.0),(514,-0.2),(518,0.2),(522,0.0),(525,0.4),
 (529,0.4),(533,0.6),(537,0.9),(541,0.8),(545,1.1),(548,0.9),(552,1.1),(556,0.9),(560,1.1),(564,0.8),
 (568,0.9),(572,0.8),(575,0.9),(579,1.1),(583,0.8),(587,0.9),(591,0.6),(595,0.6),(598,0.4),(602,0.2),
 (606,-0.2),(610,-0.6),(614,-0.6),(618,-0.8),(622,-1.1),(625,-1.5),(629,-1.3),(633,-0.9),(637,-1.1),(641,-1.3),
 (645,-1.5),(648,-1.3),(652,-0.9),(656,-0.8),(660,-0.6),(664,-0.9),(668,-0.2),(672,-0.6),(675,0.0),(679,0.2),
 (683,0.6),(687,0.4),(691,0.9),(695,0.8),(698,0.6),(702,0.9),(706,1.1),(710,1.1),(714,1.3),(718,1.1),
 (722,0.9),(725,0.9),(729,0.8),(733,0.8),(737,0.6),(741,0.6),(745,0.2),(748,0.2),(752,0.0),(756,0.2),
 (760,-0.2),(764,0.0),(768,-0.2),(772,-0.4),(775,-0.2),(779,-0.6),(783,-0.8),(787,-0.6),(791,-0.9),(795,-0.6),
 (798,-0.8),(802,-0.9),(806,-0.8),(810,-1.1),(814,-1.3),(818,-1.5),(822,-1.1),(825,-0.9),(829,-0.6),(833,-0.9),
 (837,0.2),(841,-0.4),(845,0.6),(848,-0.2),(851,0.2)]

erp5 = [(-249,0.1),(-244,0.3),(-240,0.1),(-236,-0.3),(-232,-0.5),(-228,-0.3),(-225,-0.6),(-221,-0.5),(-217,-1.0),(-213,-0.5),
 (-209,-0.6),(-205,-0.3),(-202,-0.6),(-198,-0.5),(-194,-0.3),(-190,0.1),(-186,-0.8),(-182,-0.5),(-178,-0.8),(-175,-0.1),
 (-171,-0.1),(-167,0.1),(-163,-0.1),(-159,0.3),(-155,0.5),(-152,0.3),(-148,0.5),(-144,0.1),(-140,0.7),(-136,0.9),
 (-132,0.5),(-128,0.3),(-125,0.5),(-121,0.3),(-117,0.5),(-113,0.3),(-109,0.5),(-105,0.3),(-102,0.5),(-98,0.3),
 (-94,0.9),(-90,0.1),(-86,-0.1),(-82,-0.3),(-78,0.1),(-75,-0.3),(-71,-0.1),(-67,-0.5),(-63,0.1),(-59,-0.1),
 (-55,-0.3),(-52,-0.1),(-48,-0.5),(-44,-0.6),(-40,-0.5),(-36,-0.8),(-32,-0.6),(-28,-0.6),(-25,-0.5),(-21,0.3),
 (-17,-0.6),(-13,-0.3),(-9,-0.5),(-5,-0.3),(-2,0.1),(2,-0.5),(6,-0.6),(10,0.7),(14,1.6),(18,1.6),
 (22,1.4),(24,0.7),(26,1.6),(29,0.9),(33,1.4),(37,1.2),(41,1.4),(45,0.7),(48,0.5),(52,0.1),
 (56,-0.5),(60,-0.8),(64,-0.6),(66,-1.2),(69,-0.5),(72,-1.0),(75,-0.6),(79,-1.0),(83,-1.2),(87,-1.2),
 (91,-1.4),(95,-1.6),(97,0.3),(100,1.4),(103,0.3),(106,0.7),(110,0.5),(114,1.1),(118,0.1),(122,0.7),
 (125,1.1),(129,1.4),(133,0.7),(137,0.3),(141,0.5),(145,0.1),(148,-0.1),(152,-0.3),(156,-0.5),(160,-0.5),
 (164,-1.0),(168,-1.4),(172,-2.2),(175,-1.6),(179,-0.8),(183,-0.3),(187,-0.6),(191,-0.1),(195,0.7),(198,0.9),
 (202,0.5),(206,1.2),(210,1.4),(214,1.6),(218,1.4),(222,1.6),(225,1.8),(229,1.6),(233,1.2),(235,-0.3),
 (238,0.3),(242,-0.1),(245,-0.5),(248,0.7),(252,-0.8),(256,-1.2),(260,-1.4),(264,-1.8),(268,-2.0),(272,-2.2),
 (275,-2.3),(279,-2.0),(283,-1.4),(285,-2.9),(288,-1.4),(291,-0.8),(295,-0.5),(298,-0.8),(302,-0.5),(306,-0.1),
 (310,0.3),(314,0.5),(318,1.1),(322,0.3),(325,1.1),(329,0.9),(333,0.3),(337,0.9),(341,0.5),(345,1.4),
 (348,0.3),(352,1.1),(356,0.7),(360,0.1),(364,0.5),(368,-0.1),(372,-0.3),(375,-0.1),(379,-0.5),(383,-0.8),
 (387,-1.0),(391,0.3),(395,0.7),(397,0.1),(400,0.9),(403,0.3),(406,0.1),(410,0.7),(414,0.1),(418,0.1),
 (422,0.3),(425,0.5),(429,-0.6),(433,0.3),(437,0.1),(441,0.9),(445,-0.1),(448,-0.5),(452,-0.6),(456,-0.6),
 (460,-0.5),(464,-0.6),(468,-0.5),(472,-0.6),(475,-0.5),(479,-0.5),(483,-0.8),(487,-1.0),(491,-0.5),(495,-0.6),
 (498,-0.3),(502,-0.1),(506,-0.3),(510,0.1),(514,0.3),(518,0.1),(522,0.3),(525,0.5),(529,0.3),(533,0.9),
 (537,0.5),(541,0.7),(545,0.3),(548,0.5),(552,0.3),(556,0.1),(560,0.3),(564,0.1),(568,0.1),(572,-0.1),
 (575,0.1),(579,0.1),(583,-0.1),(587,0.3),(591,0.5),(595,-0.1),(598,-0.3),(602,-0.3),(606,-0.5),(610,-0.5),
 (614,-0.3),(618,-0.5),(622,-0.6),(625,-1.0),(629,-1.4),(633,-0.8),(637,-0.8),(641,-0.6),(645,-0.5),(648,-0.8),
 (652,-0.6),(656,-0.1),(660,-0.5),(664,-0.3),(668,0.1),(672,0.5),(675,0.1),(679,-0.5),(683,0.5),(687,0.3),
 (691,0.7),(695,0.5),(698,0.1),(702,0.7),(706,0.3),(710,0.5),(714,0.9),(718,0.7),(722,0.5),(725,0.3),
 (729,0.5),(733,0.1),(737,0.3),(741,0.1),(745,-0.1),(748,-0.3),(752,-0.1),(756,-0.5),(760,-0.1),(764,-0.6),
 (768,-0.5),(772,-0.6),(775,-0.1),(779,-0.8),(783,0.1),(787,-0.3),(791,-0.6),(795,-0.5),(798,-0.8),(802,-0.6),
 (806,-0.5),(810,-0.6),(814,-0.5),(818,-0.5),(822,-0.1),(825,-0.5),(829,-0.1),(833,-0.5),(837,0.3),(841,-0.3),
 (843,0.9),(846,-0.5),(848,0.1),(851,-0.3)]

erp6 = [(-250,0.1),(-246,-0.3),(-242,0.2),(-238,-0.2),(-234,0.3),(-230,-0.4),(-226,0.1),(-222,-0.1),(-218,0.4),(-214,-0.2),
 (-210,0.2),(-206,-0.3),(-202,0.1),(-198,0.3),(-194,-0.1),(-190,0.2),(-186,-0.2),(-182,0.3),(-178,0.0),(-174,0.4),
 (-170,-0.1),(-166,0.2),(-162,0.0),(-158,0.2),(-154,-0.1),(-150,0.3),(-146,0.0),(-142,0.2),(-138,-0.1),(-134,0.1),
 (-130,-0.2),(-126,0.2),(-122,-0.1),(-118,0.1),(-114,-0.3),(-110,0.2),(-106,-0.1),(-102,0.0),(-98,-0.2),(-94,0.3),
 (-90,-0.3),(-86,0.1),(-82,-0.2),(-78,0.2),(-74,-0.1),(-70,0.0),(-66,-0.3),(-62,0.2),(-58,-0.1),(-54,0.3),
 (-50,-0.2),(-46,0.1),(-42,-0.4),(-38,0.2),(-34,-0.3),(-30,0.1),(-26,-0.2),(-22,0.3),(-18,-0.4),(-14,0.2),
 (-10,-0.1),(-6,0.4),(-2,-0.3),(2,0.2),(6,-0.5),(10,0.3),(14,-0.2),(18,0.4),(22,-0.3),(26,-1.0),
 (30,0.2),(34,-0.4),(38,0.3),(42,-0.2),(46,0.7),(50,-0.4),(54,0.3),(58,-0.6),(62,0.2),(66,-0.1),
 (69,0.8),(73,-0.3),(77,0.2),(81,-0.6),(85,-0.4),(89,0.3),(93,-0.2),(96,0.5),(99,2.2),(102,0.3),
 (105,-0.8),(108,0.4),(112,-0.3),(116,0.7),(120,-0.2),(124,0.4),(128,-0.5),(131,-0.4),(135,0.5),(139,-0.3),
 (142,0.7),(146,-0.4),(151,-0.9),(155,0.2),(158,-0.3),(162,0.9),(166,-0.2),(169,0.4),(173,-0.7),(177,0.2),
 (181,-0.3),(185,0.9),(189,-0.2),(192,0.3),(195,-0.5),(198,0.2),(201,0.7),(205,-0.3),(209,0.4),(212,-0.2),
 (216,-0.7),(220,0.3),(224,-0.4),(228,0.2),(232,-1.2),(235,0.1),(239,0.5),(243,-0.4),(247,0.3),(251,-0.2),
 (255,0.0),(259,-0.5),(263,0.4),(266,-0.3),(270,-1.0),(274,0.2),(278,-0.4),(282,0.3),(286,1.4),(290,-0.1),
 (293,-0.5),(297,0.4),(301,-0.3),(305,0.5),(309,0.7),(313,-0.4),(317,0.3),(320,-0.2),(324,-0.5),(328,0.4),
 (332,-0.2),(336,0.3),(340,0.5),(344,-0.3),(348,0.2),(352,-0.4),(355,-0.3),(359,0.4),(363,-0.3),(367,0.2),
 (371,0.7),(375,-0.2),(379,0.3),(382,-0.4),(386,-0.5),(390,0.2),(394,-0.3),(398,0.4),(402,0.5),(406,-0.2),
 (410,0.3),(413,-0.4),(417,-0.3),(421,0.2),(425,-0.1),(429,0.3),(433,-0.2),(437,1.3),(441,0.1),(444,-0.3),
 (448,-0.1),(452,0.2),(456,-0.2),(460,0.1),(463,0.3),(467,-0.3),(471,0.0),(475,-0.2),(479,-0.4),(483,0.1),
 (487,-0.2),(490,0.2),(494,0.1),(498,-0.3),(502,0.2),(506,-0.1),(510,-0.2),(514,0.1),(518,-0.2),(521,0.3),
 (525,0.4),(529,-0.1),(533,0.2),(537,-0.2),(541,-0.1),(545,0.2),(549,-0.2),(552,0.1),(556,0.1),(560,-0.2),
 (564,0.3),(568,-0.1),(571,0.5),(575,-0.2),(579,0.2),(584,0.9),(588,-0.1),(591,0.2),(595,-0.1),(599,0.3),
 (603,-0.2),(607,0.2),(610,0.3),(614,-0.2),(618,0.2),(622,-0.8),(626,0.1),(630,-0.2),(633,0.3),(637,-0.1),
 (641,0.2),(645,-0.3),(649,-0.1),(653,0.3),(657,-0.2),(660,0.2),(664,0.5),(668,-0.1),(672,0.2),(676,-0.3),
 (680,-0.3),(684,0.2),(688,-0.1),(691,0.3),(695,0.3),(699,-0.2),(703,0.2),(707,-0.1),(710,0.1),(714,-0.2),
 (718,0.3),(722,-0.3),(726,0.4),(730,-0.1),(734,0.2),(738,-0.4),(741,-0.4),(745,0.2),(749,-0.1),(753,0.3),
 (757,0.3),(761,-0.2),(765,0.2),(769,0.0),(772,0.7),(776,-0.1),(780,0.1),(784,-0.2),(788,0.3),(792,-0.1),
 (795,0.3),(799,-0.3),(803,0.2),(807,-0.1),(811,-0.1),(815,0.2),(819,-0.3),(822,0.1),(826,0.3),(830,-0.2),
 (833,0.4),(837,0.9),(841,-0.1),(844,0.2),(848,-0.2),(851,0.1)]

# alpha power (arbitrary units), trial-1-to-current averages, on a common time grid
alpha_t = [-250,-200,-150,-110,-80,-50,-25,0,25,50,75,100,125,150,175,200,225,245,265,285,305,325,350,375,400,425,450,500,550,600,700,850]
alpha1 = [0.03,0.04,0.03,0.00,0.03,0.22,0.44,0.70,0.95,1.20,1.36,1.49,1.62,1.81,2.01,2.23,2.41,2.46,2.42,2.24,2.00,1.65,1.19,0.82,0.48,0.28,0.16,0.05,0.03,0.03,0.02,0.02]
alpha2 = [0.02,0.03,0.03,-0.01,0.03,0.24,0.47,0.75,1.03,1.30,1.48,1.62,1.77,1.98,2.19,2.44,2.64,2.71,2.65,2.45,2.19,1.80,1.30,0.89,0.53,0.30,0.17,0.05,0.02,0.01,0.01,0.01]
alpha3 = [0.02,0.03,0.02,-0.01,0.03,0.24,0.47,0.74,1.01,1.28,1.46,1.60,1.75,1.95,2.17,2.41,2.61,2.68,2.62,2.43,2.17,1.79,1.28,0.88,0.52,0.30,0.17,0.05,0.02,0.01,0.01,0.01]
alpha4 = [0.02,0.04,0.03,-0.01,0.03,0.25,0.48,0.77,1.05,1.32,1.51,1.65,1.80,2.02,2.24,2.49,2.70,2.77,2.71,2.51,2.24,1.84,1.32,0.91,0.54,0.31,0.17,0.05,0.02,0.01,0.01,0.01]
alpha5 = [0.02,0.04,0.03,-0.01,0.03,0.25,0.49,0.78,1.06,1.35,1.53,1.68,1.83,2.05,2.27,2.53,2.74,2.81,2.75,2.55,2.27,1.87,1.35,0.93,0.55,0.31,0.18,0.05,0.02,0.01,0.01,0.01]
alpha6 = [0.02,0.04,0.03,-0.01,0.03,0.26,0.50,0.80,1.09,1.38,1.57,1.72,1.88,2.10,2.33,2.59,2.81,2.88,2.82,2.61,2.33,1.92,1.38,0.95,0.56,0.32,0.18,0.05,0.02,0.01,0.01,0.01]

single_trials = [trial1, trial2, trial3, trial4, trial5, trial6]
erps = [erp1, erp2, erp3, erp4, erp5, erp6]
alphas = [alpha1, alpha2, alpha3, alpha4, alpha5, alpha6]

# ---------------- layout ----------------
W, H = 1596, 1456
col_px = [(27, 505.3), (546, 1024.3), (1066.3, 1545.7)]
row_px = [(75, 269.3), (292, 486.3), (509, 703.3), (726, 920), (942, 1137), (1160, 1354.3)]
INK = "#1a1a1a"
FONT = "Liberation Sans, Arial, sans-serif"

fig = make_subplots(rows=6, cols=3)

for r in range(6):
    for c in range(3):
        if c == 0:
            pts = single_trials[r]
            x = [p[0] for p in pts]; y = [p[1] for p in pts]
            shape = "linear"
        elif c == 1:
            pts = erps[r]
            x = [p[0] for p in pts]; y = [p[1] for p in pts]
            shape = "linear"
        else:
            x = alpha_t; y = alphas[r]
            shape = "spline"
        fig.add_trace(go.Scatter(x=x, y=y, mode="lines",
                                 line=dict(color=INK, width=2.0, shape=shape, smoothing=0.8),
                                 showlegend=False, hoverinfo="skip"),
                      row=r + 1, col=c + 1)
        x0, x1 = col_px[c]
        y0, y1 = row_px[r]
        common = dict(showline=True, linecolor=INK, linewidth=2, mirror="ticks",
                      ticks="inside", ticklen=4, tickwidth=1.5, tickcolor=INK,
                      showgrid=False, zeroline=False, automargin=False)
        fig.update_xaxes(domain=[x0 / W, x1 / W], range=[-251.5, 852.5],
                         tickvals=x_ticks, ticktext=x_tick_text, showticklabels=(r == 5),
                         tickfont=dict(family=FONT, size=28, color=INK),
                         ticklabelstandoff=-4,
                         row=r + 1, col=c + 1, **common)
        if c < 2:
            fig.update_yaxes(domain=[1 - y1 / H, 1 - y0 / H], range=[-11, 11],
                             tickvals=[-10, 0, 10], showticklabels=False,
                             row=r + 1, col=c + 1, **common)
        else:
            fig.update_yaxes(domain=[1 - y1 / H, 1 - y0 / H], range=[-0.5, 4.0],
                             tickvals=[0, 1, 2, 3], showticklabels=False,
                             row=r + 1, col=c + 1, **common)

annotations = []
title_x = [255, 791, 1310]
for c in range(3):
    annotations.append(dict(text=col_titles[c], x=title_x[c] / W, y=1 - 47 / H,
                            xref="paper", yref="paper", xanchor="center", yanchor="middle",
                            showarrow=False, font=dict(family=FONT, size=38, color=INK)))
for r in range(6):
    annotations.append(dict(text=trial_labels[r], x=495 / W, y=1 - (row_px[r][0] + 35) / H,
                            xref="paper", yref="paper", xanchor="right", yanchor="middle",
                            showarrow=False, font=dict(family=FONT, size=33, color=INK)))
annotations.append(dict(text="Time (ms)", x=258 / W, y=1 - 1414 / H, xref="paper", yref="paper",
                        xanchor="center", yanchor="middle", showarrow=False,
                        font=dict(family=FONT, size=36, color=INK)))

fig.update_layout(width=W, height=H, margin=dict(l=0, r=0, t=0, b=0, autoexpand=False),
                  paper_bgcolor="white", plot_bgcolor="white",
                  annotations=annotations, showlegend=False)

fig.write_html("out.html")
